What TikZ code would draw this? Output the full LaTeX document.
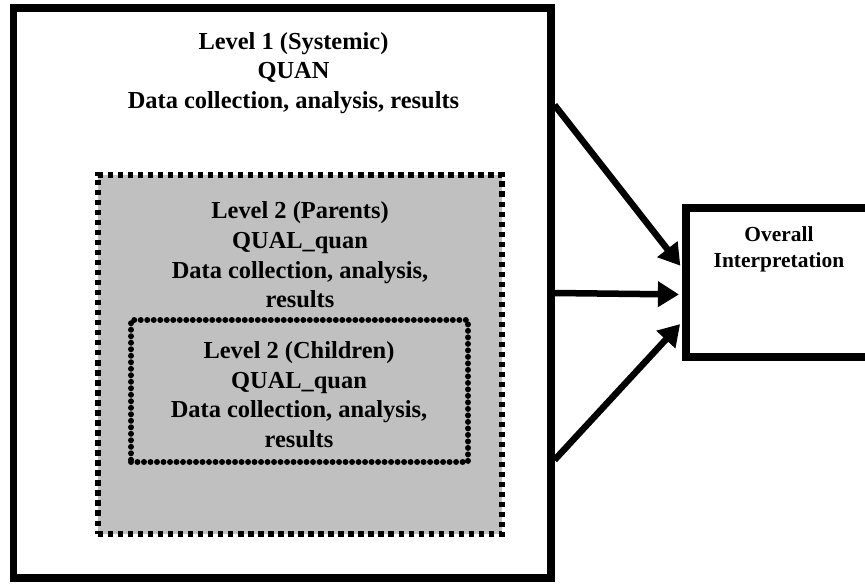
\documentclass[tikz,border=0pt]{standalone}
\usepackage{fontspec}
\setmainfont{Liberation Serif}
\usepackage{tikz}
\usetikzlibrary{arrows.meta,positioning}
\definecolor{boxgrey}{RGB}{192,192,192}

\begin{document}
\begin{tikzpicture}[
        lvltext/.style={font=\fontsize{13.9}{16.9}\selectfont\bfseries, align=center, inner sep=0pt},
        flowarrow/.style={-{Triangle[length=12pt,width=14pt]}, line width=3.7pt, shorten >=2pt}]
            \clip (0, 0) rectangle (17.3, 11.66);
            \node (level1) at (5.645, 5.8) [rectangle, draw, line width=4pt, minimum width=10.75cm, minimum height=11.4cm] {};
            \node (parents) at (6.0, 4.57) [rectangle, draw, fill=boxgrey, line width=3pt,
                dash pattern=on 3pt off 2.7pt, minimum width=8.08cm, minimum height=7.18cm] {};
            \node (children) at (5.99, 3.84) [rectangle, draw, line width=3.4pt, line cap=round,
                dash pattern=on 0pt off 3.7pt, minimum width=6.74cm, minimum height=2.84cm] {};
            \node (interp) at (15.58, 6.01) [rectangle, draw, line width=4pt, minimum width=3.72cm, minimum height=2.98cm] {};

            % texts
            \node (l1text) at (5.87, 11.02) [lvltext, anchor=north] {Level 1 (Systemic)\\QUAN\\Data collection, analysis, results};
            \node (l2ptext) at (6.0, 7.63) [lvltext, anchor=north] {Level 2 (Parents)\\QUAL\_quan\\Data collection, analysis,\\results};
            \node (l2ctext) at (5.98, 4.84) [lvltext, anchor=north] {Level 2 (Children)\\QUAL\_quan\\Data collection, analysis,\\results};
            \node (interptext) at (15.58, 7.13) [lvltext, anchor=north, font=\fontsize{12.2}{14.4}\selectfont\bfseries] {Overall\\Interpretation};

            % arrows into the interpretation box
            \draw [flowarrow] ([yshift=3.76cm]level1.east) -- ([yshift=0.28cm]interp.west);
            \draw [flowarrow] (level1.east) -- ([yshift=-0.24cm]interp.west);
            \draw [flowarrow] ([yshift=-3.34cm]level1.east) -- ([yshift=-0.78cm]interp.west);
        \end{tikzpicture}
\end{document}
